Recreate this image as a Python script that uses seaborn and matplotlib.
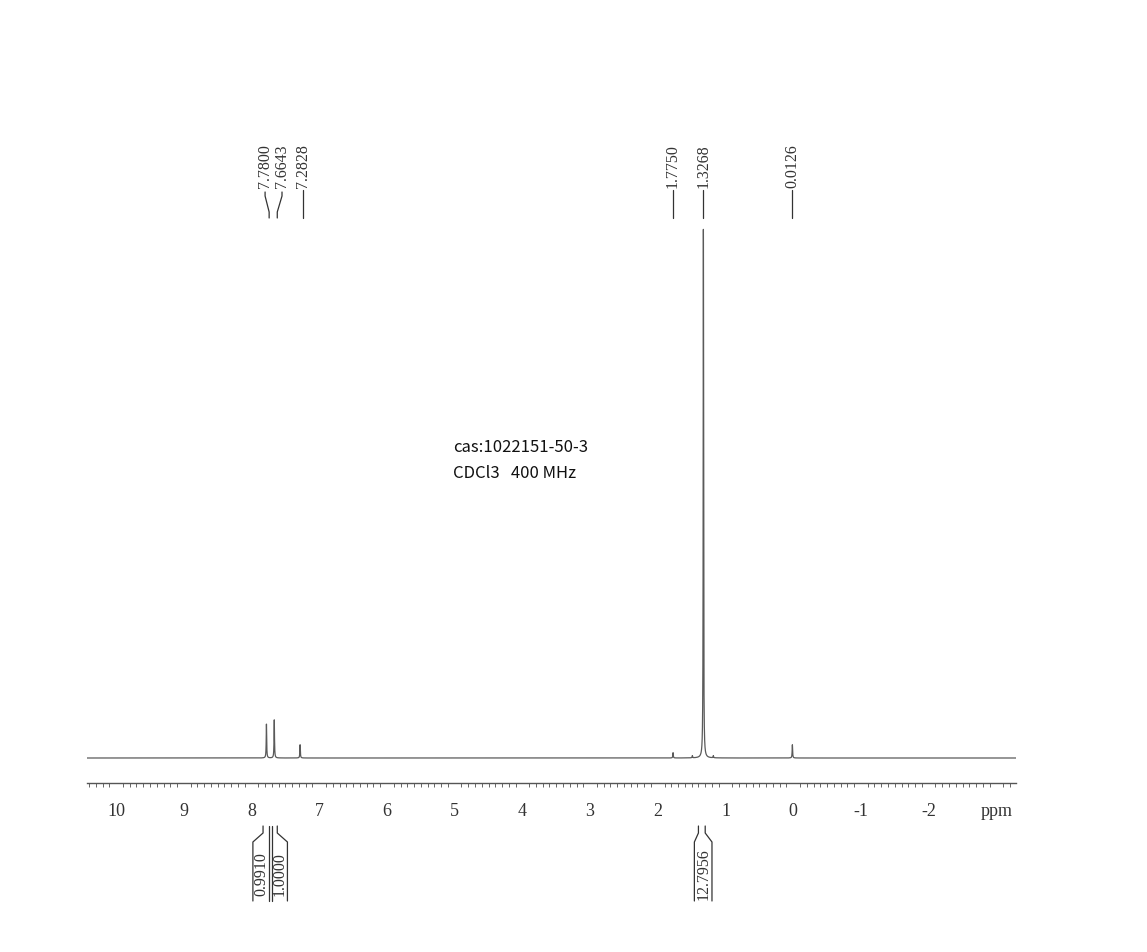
import numpy as np
import pandas as pd
import matplotlib
matplotlib.use("Agg")
import matplotlib.pyplot as plt
import seaborn as sns
from matplotlib.transforms import blended_transform_factory

# ---------------- data ----------------
peak_ppm = [7.7800, 7.6643, 7.2828, 1.7750, 1.49, 1.3268, 1.18, 0.0126]
peak_height = [6.4, 7.2, 2.5, 1.0, 0.4, 100.0, 0.4, 2.5]
peak_width = [0.004, 0.004, 0.004, 0.004, 0.004, 0.0035, 0.004, 0.004]

label_values = ["7.7800", "7.6643", "7.2828", "1.7750", "1.3268", "0.0126"]
label_text_x = [7.80, 7.55, 7.24, 1.775, 1.3268, 0.0126]
label_line_x = [7.74, 7.62, 7.24, 1.775, 1.3268, 0.0126]

integral_values = ["0.9910", "1.0000", "12.7956"]
integral_from = [7.83, 7.70, 1.40]
integral_to = [7.74, 7.62, 1.30]
integral_box_left = [7.98, 7.70, 1.46]
integral_box_right = [7.74, 7.47, 1.20]

tick_values = [10, 9, 8, 7, 6, 5, 4, 3, 2, 1, 0, -1, -2, -3]
tick_labels = ["10", "9", "8", "7", "6", "5", "4", "3", "2", "1", "0", "-1", "-2", "ppm"]

info_lines = ["cas:1022151-50-3", "CDCl3   400 MHz"]

x_left, x_right = 10.43, -3.29

# ---------------- spectrum ----------------
ppm = np.linspace(x_left, x_right, 40000)
intensity = np.zeros_like(ppm)
for p, h, w in zip(peak_ppm, peak_height, peak_width):
    intensity += h / (1.0 + ((ppm - p) / w) ** 2)
df = pd.DataFrame({"ppm": ppm, "intensity": intensity})

W, H = 1147, 953
sns.set_style("white")
plt.rcParams["font.family"] = ["Liberation Serif", "DejaVu Serif"]

fig = plt.figure(figsize=(W / 100, H / 100), dpi=100)
fig.patch.set_facecolor("white")

def fx(px):
    return px / W

def fy(py):
    return 1 - py / H

axis_py = 784
top_py = 100
base_py = 759
peak_top_py = 230
ax = fig.add_axes([fx(87), fy(axis_py), fx(1016) - fx(87), fy(top_py) - fy(axis_py)])
ax.set_facecolor("white")

line_color = "#5a5a5a"
sns.lineplot(data=df, x="ppm", y="intensity", ax=ax, color=line_color,
             linewidth=0.9, estimator=None, sort=False)

ax.set_xlim(x_left, x_right)
scale = (base_py - peak_top_py) / 100.0
ax.set_ylim(-(axis_py - base_py) / scale, (base_py - top_py) / scale)

for s in ["left", "top", "right"]:
    ax.spines[s].set_visible(False)
ax.spines["bottom"].set_color("#555555")
ax.spines["bottom"].set_linewidth(1.0)
ax.set_yticks([])
ax.set_xticks(tick_values)
ax.set_xticklabels(tick_labels)
ax.set_xticks(np.arange(-3.2, 10.45, 0.1), minor=True)
ax.tick_params(axis="x", which="major", direction="out", length=6.5, width=0.9,
               color="#555555", labelsize=13, labelcolor="#333333", pad=7.5)
ax.tick_params(axis="x", which="minor", direction="out", length=3.2, width=0.7,
               color="#666666", bottom=True)
ax.set_xlabel("")
ax.set_ylabel("")

tr = blended_transform_factory(ax.transData, fig.transFigure)
txt_color = "#333333"

# peak labels
for val, tx, lx in zip(label_values, label_text_x, label_line_x):
    ax.text(tx, fy(188), val, transform=tr, rotation=90, ha="center", va="bottom",
            fontsize=11.5, color=txt_color)
    if abs(tx - lx) < 1e-6:
        ax.plot([lx, lx], [fy(191), fy(219)], transform=tr, color=txt_color,
                linewidth=0.9, clip_on=False)
    else:
        ax.plot([tx, tx, lx, lx], [fy(193), fy(197), fy(213), fy(219)], transform=tr,
                color=txt_color, linewidth=0.9, clip_on=False)

# integrals
for val, a, b, bl, br in zip(integral_values, integral_from, integral_to,
                             integral_box_left, integral_box_right):
    ax.plot([a, a, bl, bl], [fy(827), fy(834), fy(843), fy(902)], transform=tr,
            color=txt_color, linewidth=0.9, clip_on=False)
    ax.plot([b, b, br, br], [fy(827), fy(834), fy(843), fy(902)], transform=tr,
            color=txt_color, linewidth=0.9, clip_on=False)
    ax.text((bl + br) / 2, fy(874), val, transform=tr, rotation=90, ha="center",
            va="center", fontsize=11.5, color=txt_color)

# info text
for i, t in enumerate(info_lines):
    fig.text(fx(453), fy(447 + 26 * i), t, ha="left", va="center", fontsize=12,
             color="#111111", family=["Noto Sans CJK SC", "DejaVu Sans"])

fig.savefig("out.png", dpi=100, facecolor="white")
